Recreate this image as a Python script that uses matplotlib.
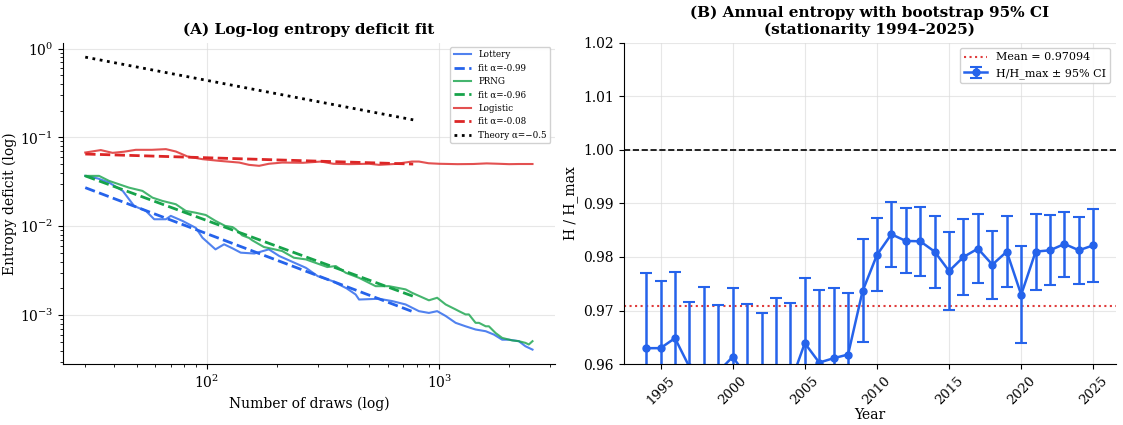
import matplotlib

matplotlib.use("agg")
import matplotlib.pyplot as plt
import numpy as np

plt.rcParams["font.family"] = ["DejaVu Serif"]

# ---- panel A: entropy deficit vs number of draws
lottery_n = [30, 34, 38, 43.5, 48.7, 54.7, 59.4, 66.7, 70, 78.6, 89.7, 95.8, 109, 118.7,
             129, 140, 160, 185, 205, 267, 300, 347, 400, 437, 452, 551, 628, 717, 818,
             903, 980, 1066, 1177, 1298, 1434, 1585, 1720, 1866, 1995, 2200, 2350, 2520]
lottery_d = [0.0369, 0.0345, 0.031, 0.025, 0.0169, 0.0149, 0.012, 0.012, 0.0131, 0.0115,
             0.0096, 0.00744, 0.0055, 0.00627, 0.00565, 0.00505, 0.00494, 0.0055, 0.00463,
             0.00341, 0.00275, 0.00242, 0.0020, 0.00171, 0.0015, 0.00153, 0.00144, 0.00132,
             0.00111, 0.00106, 0.00111, 0.00098, 0.00082, 0.00075, 0.00069, 0.00066,
             0.000605, 0.00053, 0.00053, 0.00051, 0.000447, 0.00041]

prng_n = [30, 34.4, 38, 46.3, 52.9, 58.4, 64.4, 73.6, 81.2, 89.7, 99, 109, 120, 129, 133,
          142, 152, 157, 176, 211, 237, 267, 330, 359, 396, 452, 533, 608, 717, 766, 903,
          980, 1066, 1177, 1216, 1298, 1342, 1434, 1483, 1585, 1636, 1748, 1866, 2061,
          2200, 2350, 2430, 2520]
prng_d = [0.0369, 0.0369, 0.0324, 0.0272, 0.025, 0.021, 0.0193, 0.0177, 0.0149, 0.0142,
          0.0134, 0.0115, 0.0101, 0.0098, 0.0093, 0.0079, 0.0074, 0.00695, 0.00585,
          0.00527, 0.00443, 0.00424, 0.00348, 0.00357, 0.0030, 0.00263, 0.00212, 0.00212,
          0.00195, 0.00178, 0.00147, 0.00157, 0.00132, 0.00116, 0.00111, 0.00102,
          0.00102, 0.00082, 0.00082, 0.00075, 0.00075, 0.00063, 0.000555, 0.00052,
          0.00051, 0.000488, 0.000468, 0.00051]

logistic_n = [30, 35, 39.3, 44, 49.5, 58, 66.7, 73.6, 82.6, 95.8, 113, 138, 152, 168, 185,
              211, 260, 310, 350, 409, 500, 551, 650, 763, 818, 900, 1000, 1200, 1400,
              1600, 1800, 2000, 2200, 2520]
logistic_d = [0.0676, 0.072, 0.067, 0.069, 0.0725, 0.0725, 0.0738, 0.0694, 0.061, 0.0569,
              0.0545, 0.0521, 0.0491, 0.0479, 0.0505, 0.0521, 0.0518, 0.0535, 0.0505, 0.050,
              0.0505, 0.0491, 0.0503, 0.0535, 0.0535, 0.0512, 0.0505, 0.0500, 0.0502, 0.051,
              0.0505, 0.0500, 0.0502, 0.0502]

# power-law fits: value at the first n and slope alpha, fitted over n_fit range
n_fit = [30, 773]
lottery_fit = (0.0272, -0.99)
prng_fit = (0.0369, -0.96)
logistic_fit = (0.065, -0.08)
theory_fit = (0.80, -0.5)

# ---- panel B: annual entropy with bootstrap CI
years = list(range(1994, 2026))
h_ratio = [0.96299, 0.96300, 0.96486, 0.9595, 0.9585, 0.9586, 0.96137, 0.9577, 0.9570,
           0.9583, 0.9564, 0.96393, 0.96031, 0.96112, 0.96181, 0.97358, 0.98037, 0.98424,
           0.98299, 0.98293, 0.98100, 0.97738, 0.98000, 0.98156, 0.97857, 0.98100,
           0.97296, 0.98100, 0.98125, 0.98243, 0.98125, 0.98218]
ci_hi = [0.97695, 0.97558, 0.97720, 0.97159, 0.97433, 0.97097, 0.97420, 0.97121, 0.96953,
         0.97234, 0.97146, 0.97614, 0.97377, 0.97420, 0.97321, 0.98330, 0.98729, 0.99034,
         0.98922, 0.98941, 0.98766, 0.98467, 0.98717, 0.98804, 0.98486, 0.98766,
         0.98200, 0.98804, 0.98779, 0.98841, 0.98748, 0.98903]
ci_lo = [0.94903, 0.95042, 0.95252, 0.94741, 0.94267, 0.94623, 0.94854, 0.94419, 0.94447,
         0.94426, 0.94134, 0.95172, 0.94685, 0.94804, 0.95041, 0.96411, 0.97358, 0.97807,
         0.97695, 0.97645, 0.97427, 0.97003, 0.97290, 0.97514, 0.97215, 0.97439,
         0.96405, 0.97389, 0.97470, 0.97626, 0.97495, 0.97533]
h_mean = 0.97094

blue = "#2563eb"
green = "#16a34a"
red = "#dc2626"

fig, (ax1, ax2) = plt.subplots(ncols=2, figsize=(11.23, 4.25), dpi=100)
fig.subplots_adjust(left=0.056, right=0.9935, bottom=0.143, top=0.9, wspace=0.14)

# panel A
nf = np.array(n_fit, dtype=float)
ax1.plot(lottery_n, lottery_d, color=blue, alpha=0.8, lw=1.5, label="Lottery")
a, s = lottery_fit
ax1.plot(nf, a * (nf / nf[0]) ** s, "--", color=blue, lw=2, label="fit α=-0.99")
ax1.plot(prng_n, prng_d, color=green, alpha=0.8, lw=1.5, label="PRNG")
a, s = prng_fit
ax1.plot(nf, a * (nf / nf[0]) ** s, "--", color=green, lw=2, label="fit α=-0.96")
ax1.plot(logistic_n, logistic_d, color=red, alpha=0.8, lw=1.5, label="Logistic")
a, s = logistic_fit
ax1.plot(nf, a * (nf / nf[0]) ** s, "--", color=red, lw=2, label="fit α=-0.08")
a, s = theory_fit
ax1.plot(nf, a * (nf / nf[0]) ** s, ":", color="black", lw=2,
         label="Theory α=\u22120.5")
ax1.set_xscale("log")
ax1.set_yscale("log")
ax1.set_xlabel("Number of draws (log)", fontsize=10)
ax1.set_ylabel("Entropy deficit (log)", fontsize=10, labelpad=2)
ax1.set_title("(A) Log-log entropy deficit fit", fontsize=11, fontweight="bold")
ax1.grid(True, which="major", color="#dddddd", alpha=0.7, lw=0.8)
ax1.legend(loc="upper right", fontsize=6.3, framealpha=0.9)

# panel B
yerr = [np.array(h_ratio) - np.array(ci_lo), np.array(ci_hi) - np.array(h_ratio)]
ax2.axhline(h_mean, color=red, ls=":", lw=1.5, alpha=0.9,
            label="Mean = {:.5f}".format(h_mean))
ax2.axhline(1.0, color="black", ls="--", lw=1.2)
ax2.errorbar(years, h_ratio, yerr=yerr, fmt="-o", color=blue, ms=5, lw=1.8,
             elinewidth=1.8, capsize=4, capthick=1.5, label="H/H_max ± 95% CI")
ax2.set_ylim(0.96, 1.02)
ax2.set_yticks([0.96, 0.97, 0.98, 0.99, 1.00, 1.01, 1.02])
ax2.set_yticklabels(["0.96", "0.97", "0.98", "0.99", "1.00", "1.01", "1.02"])
ax2.set_xticks([1995, 2000, 2005, 2010, 2015, 2020, 2025])
ax2.set_xlabel("Year", fontsize=10, labelpad=1)
ax2.set_ylabel("H / H_max", fontsize=10)
ax2.set_title("(B) Annual entropy with bootstrap 95% CI\n(stationarity 1994\u20132025)",
              fontsize=11, fontweight="bold")
ax2.grid(True, color="#dddddd", alpha=0.7, lw=0.8)
ax2.legend(loc="upper right", fontsize=8, framealpha=0.9)

for ax in (ax1, ax2):
    ax.spines["top"].set_visible(False)
    ax.spines["right"].set_visible(False)
    ax.tick_params(labelsize=10)
ax2.tick_params(axis="x", rotation=45, labelsize=9.5)

plt.savefig("out.png", dpi=100)
plt.close()
